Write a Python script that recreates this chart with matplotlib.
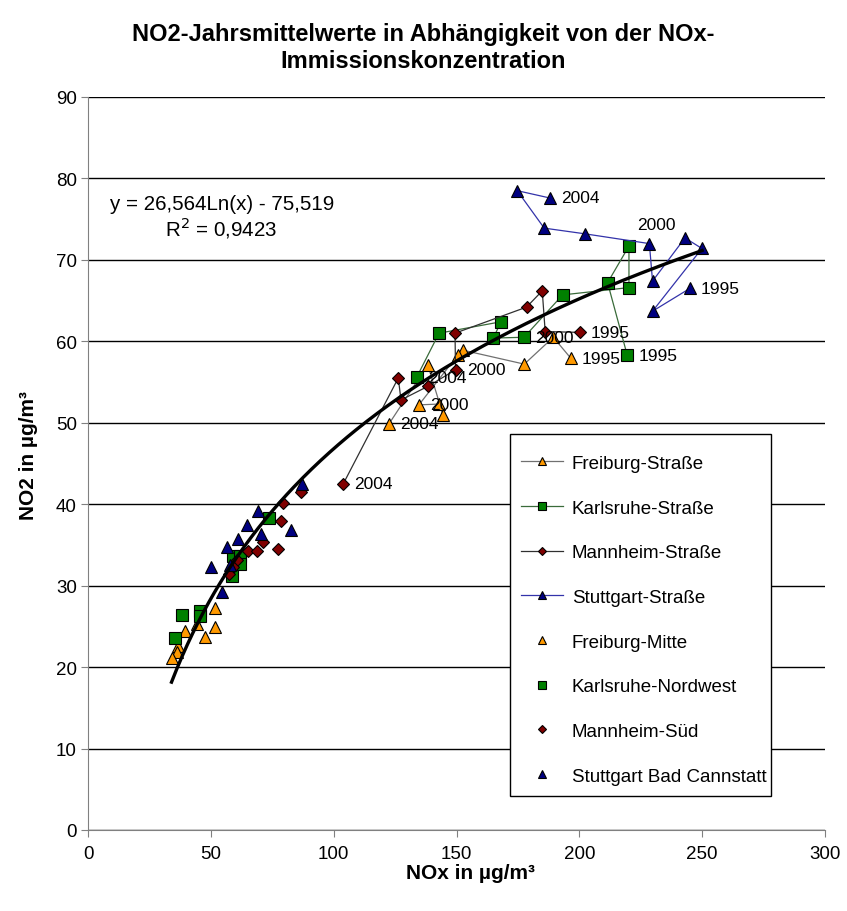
import numpy as np
import matplotlib
matplotlib.use("Agg")
import matplotlib.pyplot as plt
from matplotlib.patches import Rectangle

plt.rcParams['font.family'] = ['Liberation Sans', 'DejaVu Sans']

years = list(range(1995, 2005))

# Street stations (yearly means 1995-2004), x = NOx, y = NO2
freiburg_str_x = [196.6, 189.4, 177.6, 152.8, 150.5, 134.7, 143.0, 144.6, 138.3, 122.6]
freiburg_str_y = [57.9, 60.5, 57.2, 58.9, 58.3, 52.2, 52.3, 50.9, 57.1, 49.9]
karlsruhe_str_x = [219.5, 211.5, 220.2, 220.2, 193.2, 177.5, 165.0, 168.1, 142.9, 133.8]
karlsruhe_str_y = [58.3, 67.2, 71.7, 66.6, 65.7, 60.5, 60.4, 62.4, 61.0, 55.6]
mannheim_str_x = [200.2, 186.1, 184.9, 178.5, 149.4, 149.6, 138.5, 127.4, 126.3, 103.9]
mannheim_str_y = [61.1, 61.2, 66.2, 64.2, 61.0, 56.5, 54.5, 52.8, 55.5, 42.5]
stuttgart_str_x = [245.0, 229.8, 249.9, 243.0, 229.8, 228.5, 202.3, 185.7, 174.7, 188.0]
stuttgart_str_y = [66.5, 63.7, 71.4, 72.7, 67.4, 72.0, 73.2, 73.9, 78.5, 77.6]

# Urban background stations
freiburg_mitte_x = [51.7, 51.7, 47.6, 44.2, 39.5, 36.8, 36.1, 34.1]
freiburg_mitte_y = [27.2, 24.9, 23.7, 25.3, 24.4, 22.6, 21.8, 21.1]
karlsruhe_nw_x = [73.8, 59.2, 61.9, 61.9, 58.5, 45.6, 45.6, 38.4, 35.4]
karlsruhe_nw_y = [38.3, 33.7, 33.6, 32.7, 31.2, 26.9, 26.3, 26.4, 23.6]
mannheim_sued_x = [86.5, 79.2, 78.4, 71.1, 65.2, 68.7, 77.5, 60.5, 59.2, 57.5]
mannheim_sued_y = [41.5, 40.2, 38.0, 35.4, 34.3, 34.3, 34.5, 33.2, 32.3, 31.4]
stuttgart_bc_x = [87.0, 69.3, 64.6, 70.4, 82.5, 61.2, 56.4, 49.9, 57.8, 54.4]
stuttgart_bc_y = [42.5, 39.2, 37.4, 36.3, 36.8, 35.7, 34.7, 32.3, 32.5, 29.2]

# Logarithmic fit y = a*ln(x) + b
fit_a, fit_b = 26.564, -75.519
fit_r2 = 0.9423
fit_range = (34.0, 250.0)

labelled_years = [1995, 2000, 2004]

ORANGE = '#FF9900'
GREEN = '#008000'
DARKRED = '#800000'
NAVY = '#000080'

fig = plt.figure(figsize=(8.47, 9.12), dpi=100)
ax = fig.add_axes([88/847, 81/912, 737/847, 733/912])

ax.set_xlim(0, 300)
ax.set_ylim(0, 90)
ax.set_xticks(np.arange(0, 301, 50))
ax.set_yticks(np.arange(0, 91, 10))
ax.yaxis.grid(True, color='black', linewidth=1.0, zorder=0)
ax.set_axisbelow(True)
for s in ['top', 'right']:
    ax.spines[s].set_visible(False)
ax.spines['left'].set_color('#808080')
ax.spines['bottom'].set_color('#808080')
ax.tick_params(axis='both', direction='out', length=5, color='#808080',
               labelsize=13.5)
ax.tick_params(axis='x', pad=6)
ax.tick_params(axis='y', pad=3)

mk_kw = dict(markeredgecolor='black', markeredgewidth=0.8)

street = [
    ('Freiburg-Straße', freiburg_str_x, freiburg_str_y, '^', ORANGE, '#707070', 8.5),
    ('Karlsruhe-Straße', karlsruhe_str_x, karlsruhe_str_y, 's', GREEN, '#3A6B3A', 8),
    ('Mannheim-Straße', mannheim_str_x, mannheim_str_y, 'D', DARKRED, '#303030', 6.5),
    ('Stuttgart-Straße', stuttgart_str_x, stuttgart_str_y, '^', NAVY, '#3333AA', 8.5),
]
background = [
    ('Freiburg-Mitte', freiburg_mitte_x, freiburg_mitte_y, '^', ORANGE, 8.5),
    ('Karlsruhe-Nordwest', karlsruhe_nw_x, karlsruhe_nw_y, 's', GREEN, 8),
    ('Mannheim-Süd', mannheim_sued_x, mannheim_sued_y, 'D', DARKRED, 6.5),
    ('Stuttgart Bad Cannstatt', stuttgart_bc_x, stuttgart_bc_y, '^', NAVY, 8.5),
]

handles = []
z = 3
for name, xs, ys, m, fc, lc, ms in street:
    h, = ax.plot(xs, ys, color=lc, linewidth=0.9, marker=m, markersize=ms,
                 markerfacecolor=fc, label=name, zorder=z, **mk_kw)
    handles.append(h)
    z += 0.1
for name, xs, ys, m, fc, ms in background:
    h, = ax.plot(xs, ys, linestyle='none', marker=m, markersize=ms,
                 markerfacecolor=fc, label=name, zorder=z, **mk_kw)
    handles.append(h)
    z += 0.1

# Year annotations on the street series
for name, xs, ys, m, fc, lc, ms in street:
    for yr in labelled_years:
        i = years.index(yr)
        if name == 'Stuttgart-Straße' and yr == 2000:
            ax.annotate(str(yr), (xs[i], ys[i]), xytext=(5, 8),
                        textcoords='offset points', ha='center', va='bottom',
                        fontsize=12.5, zorder=6)
        else:
            ax.annotate(str(yr), (xs[i], ys[i]), xytext=(8, 0),
                        textcoords='offset points', ha='left', va='center',
                        fontsize=12.5, zorder=6)

# Trend line
xf = np.linspace(fit_range[0], fit_range[1], 300)
ax.plot(xf, fit_a * np.log(xf) + fit_b, color='black', linewidth=2.4, zorder=5)

def fmt(v, nd):
    return f"{v:.{nd}f}".replace('.', ',')

fig.text(110/847, 1 - 205/912, f"y = {fmt(fit_a, 3)}Ln(x) - {fmt(-fit_b, 3)}",
         fontsize=14.8, ha='left', va='center')
fig.text(165/847, 1 - 228/912, f"R$^2$ = {fmt(fit_r2, 4)}",
         fontsize=14.8, ha='left', va='center')

# Legend box (frame drawn separately so its padding can be set freely)
box = (0.5726, 0.0464, 0.3541, 0.4939)
ax.add_patch(Rectangle(box[:2], box[2], box[3], transform=ax.transAxes,
                       facecolor='white', edgecolor='black', linewidth=1.0,
                       zorder=9))
leg = ax.legend(handles=handles, loc='lower left',
                bbox_to_anchor=box, mode='expand',
                fontsize=13.5, frameon=False, borderpad=0.6, labelspacing=1.47,
                handlelength=2.2, handletextpad=0.5, markerscale=0.65,
                borderaxespad=0)
leg.set_zorder(10)

fig.text(470/847, 1 - 874/912, 'NOx in µg/m³', fontsize=15, fontweight='bold',
         ha='center', va='center')
fig.text(28/847, 1 - 455/912, 'NO2 in µg/m³', fontsize=15, fontweight='bold',
         ha='center', va='center', rotation=90)

fig.text(0.5, 1 - 35/912, 'NO2-Jahrsmittelwerte in Abhängigkeit von der NOx-',
         ha='center', va='center', fontsize=17, fontweight='bold')
fig.text(0.5, 1 - 61/912, 'Immissionskonzentration',
         ha='center', va='center', fontsize=17, fontweight='bold')

fig.savefig('out.png', dpi=100, facecolor='white')
